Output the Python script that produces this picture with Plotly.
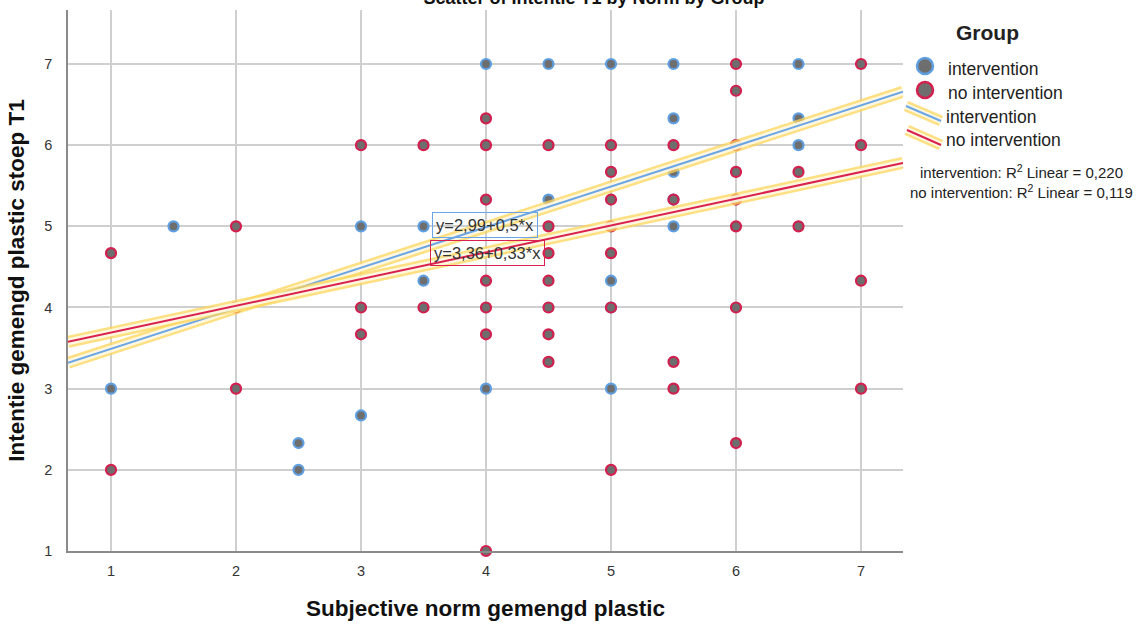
import plotly.graph_objects as go

# ---------------- data ----------------
x_int = [1, 1.5, 2.5, 2.5, 3, 3, 3.5, 3.5, 4, 4, 4.5, 4.5, 5, 5, 5, 5.5, 5.5, 5.5, 5.5, 5.5,
         6.5, 6.5, 6.5, 2, 6, 5]
y_int = [3, 5, 2.33, 2, 5, 2.67, 5, 4.33, 7, 3, 7, 5.33, 7, 4.33, 3, 7, 6.33, 5.67, 5, 5.33,
         7, 6.33, 6, 4, 6, 4]

x_noint = [1, 1, 2, 2, 2, 3, 3, 3, 3.5, 3.5,
           4, 4, 4, 4, 4, 4, 4,
           4.5, 4.5, 4.5, 4.5, 4.5, 4.5, 4.5,
           5, 5, 5, 5, 5, 5, 5,
           5.5, 5.5, 5.5, 5.5,
           6, 6, 6, 6, 6, 6, 6, 6,
           6.5, 6.5, 7, 7, 7, 7]
y_noint = [4.67, 2, 5, 4, 3, 6, 4, 3.67, 6, 4,
           6.33, 6, 5.33, 4.33, 4, 3.67, 1,
           6, 5, 4.67, 4.33, 4, 3.67, 3.33,
           6, 5.67, 5.33, 5, 4.67, 4, 2,
           6, 5.33, 3.33, 3,
           7, 6.67, 6, 5.67, 5.33, 5, 4, 2.33,
           5.67, 5, 7, 6, 4.33, 3]

groups = ["intervention", "no intervention"]
fit_intercepts = [2.99, 3.36]
fit_slopes = [0.5, 0.33]
fit_labels = ["y=2,99+0,5*x", "y=3,36+0,33*x"]
r2_labels = ["intervention: R<sup>2</sup> Linear = 0,220",
             "no intervention: R<sup>2</sup> Linear = 0,119"]
x_ticks = [1, 2, 3, 4, 5, 6, 7]
y_ticks = [1, 2, 3, 4, 5, 6, 7]

X_RANGE = [0.656, 7.336]
Y_RANGE = [1, 7.665]

# ---------------- style ----------------
W, H = 1143, 624
L, R, T, B = 68, 903, 10, 551
FONT = "Liberation Sans, Arial, sans-serif"
GRAY = "#6e6e6e"
BLUE_M = "#5f9fe0"
RED_M = "#d21f4e"
BLUE_L = "#6aa5e6"
RED_L = "#d9214f"
HALO = "rgba(253,214,90,0.75)"
HALO_IN = "rgba(255,255,255,0.75)"


def px(x):
    return (x - L) / (R - L)


def py(y):
    return (B - y) / (B - T)


fig = go.Figure()

# points
for xs, ys, col, name in [(x_int, y_int, BLUE_M, groups[0]), (x_noint, y_noint, RED_M, groups[1])]:
    fig.add_trace(go.Scatter(
        x=xs, y=ys, mode="markers", name=name, showlegend=False, cliponaxis=False,
        marker=dict(size=10, color=GRAY, line=dict(color=col, width=2.2)),
    ))

# fit lines with highlight halo
line_x = X_RANGE
for a, b, col in zip(fit_intercepts, fit_slopes, [BLUE_L, RED_L]):
    ly = [a + b * xv for xv in line_x]
    fig.add_trace(go.Scatter(x=line_x, y=ly, mode="lines", showlegend=False,
                             line=dict(color=HALO, width=12), hoverinfo="skip"))
    fig.add_trace(go.Scatter(x=line_x, y=ly, mode="lines", showlegend=False,
                             line=dict(color=HALO_IN, width=7), hoverinfo="skip"))
    fig.add_trace(go.Scatter(x=line_x, y=ly, mode="lines", showlegend=False,
                             line=dict(color=col, width=2), hoverinfo="skip"))

# equation labels
ann = []
for lab, col, yv, xv in zip(fit_labels, [BLUE_L, RED_L], [5.02, 4.675], [3.99, 4.01]):
    ann.append(dict(x=xv, y=yv, xref="x", yref="y", text=lab, showarrow=False,
                    font=dict(family=FONT, size=16.5, color="#333333"),
                    bordercolor=col, borderwidth=1, borderpad=3,
                    bgcolor="rgba(255,255,255,0)"))

# custom legend
ann.append(dict(x=px(987), y=py(33), xref="paper", yref="paper", text="<b>Group</b>",
                showarrow=False, font=dict(family=FONT, size=21, color="#222222"),
                xanchor="center", yanchor="middle"))
leg_texts = [(groups[0], 69), (groups[1], 93), (groups[0], 117), (groups[1], 140)]
for i, (t, yy) in enumerate(leg_texts):
    ann.append(dict(x=px(946 if i < 2 else 944), y=py(yy), xref="paper", yref="paper", text=t,
                    showarrow=False, font=dict(family=FONT, size=17.5, color="#222222"),
                    xanchor="left", yanchor="middle"))
for t, yy in zip(r2_labels, [171, 191]):
    ann.append(dict(x=px(1021), y=py(yy), xref="paper", yref="paper", text=t,
                    showarrow=False, font=dict(family=FONT, size=15, color="#222222"),
                    xanchor="center", yanchor="middle"))

shapes = []
for col, cy in [(BLUE_M, 66), (RED_M, 90)]:
    shapes.append(dict(type="circle", xref="paper", yref="paper",
                       x0=px(917), x1=px(933), y0=py(cy + 8), y1=py(cy - 8),
                       fillcolor=GRAY, line=dict(color=col, width=2.5)))
for col, (x0, y0, x1, y1) in [(BLUE_L, (906, 106, 941, 121)), (RED_L, (907, 130, 941, 145))]:
    for c, w in [(HALO, 11), (HALO_IN, 6), (col, 2)]:
        shapes.append(dict(type="line", xref="paper", yref="paper",
                           x0=px(x0), y0=py(y0), x1=px(x1), y1=py(y1),
                           line=dict(color=c, width=w)))

axis_common = dict(
    showgrid=True, gridcolor="#cfcfcf", gridwidth=1.5,
    showline=True, linecolor="#8a8a8a", linewidth=1.5,
    zeroline=False, ticks="", tickfont=dict(family=FONT, size=14.5, color="#333333"),
)

fig.update_layout(
    width=W, height=H,
    margin=dict(l=L, r=W - R, t=T, b=H - B, autoexpand=False),
    paper_bgcolor="white", plot_bgcolor="white",
    showlegend=False,
    title=dict(text="<b>Scatter of Intentie T1 by Norm by Group</b>",
               x=594 / W, xanchor="center", xref="container",
               y=1, yanchor="bottom", yref="container", pad=dict(b=-4),
               font=dict(family=FONT, size=18, color="#111111")),
    xaxis=dict(range=X_RANGE, tickvals=x_ticks, ticklabelstandoff=6,
               title=dict(text="<b>Subjective norm gemengd plastic</b>", standoff=22,
                          font=dict(family=FONT, size=22.5, color="#111111")),
               **axis_common),
    yaxis=dict(range=Y_RANGE, tickvals=y_ticks, ticklabelstandoff=11,
               title=dict(text="<b>Intentie gemengd plastic stoep T1</b>", standoff=13,
                          font=dict(family=FONT, size=22.5, color="#111111")),
               **axis_common),
    annotations=ann,
    shapes=shapes,
)

fig.write_html("out.html")
